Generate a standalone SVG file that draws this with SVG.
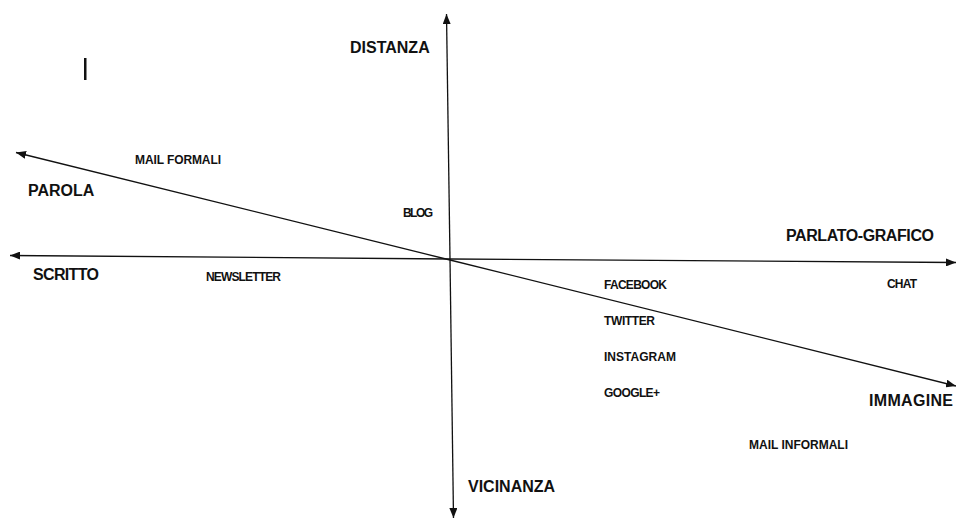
<svg xmlns="http://www.w3.org/2000/svg" width="956" height="520" viewBox="0 0 956 520">
<style>
.ax{stroke:#111;stroke-width:1.3;fill:none;marker-end:url(#ah)}
text{font-family:"Liberation Sans",Arial,sans-serif;font-weight:bold;fill:#111}
.big{font-size:16px}
.sm{font-size:12px}
</style>
<defs>
<marker id="ah" viewBox="0 0 10 8" refX="10" refY="4" markerWidth="10" markerHeight="8" markerUnits="userSpaceOnUse" orient="auto">
<path d="M0,0 L10,4 L0,8 z" fill="#111"/>
</marker>
</defs>
<rect width="956" height="520" fill="#fff"/>
<g id="connectors">
<line class="ax" x1="450" y1="259" x2="446.5" y2="14"/>
<line class="ax" x1="450" y1="259" x2="453.5" y2="518"/>
<line class="ax" x1="450" y1="259" x2="10" y2="255.5"/>
<line class="ax" x1="450" y1="259" x2="956" y2="262.5"/>
<line class="ax" x1="450" y1="260" x2="16" y2="152.5"/>
<line class="ax" x1="450" y1="260" x2="956" y2="386"/>
</g>
<rect id="cursor" x="84" y="58" width="2.5" height="22" fill="#111"/>
<g id="distanza"><text class="big" x="350" y="53">DISTANZA</text></g>
<g id="vicinanza"><text class="big" x="468" y="492">VICINANZA</text></g>
<g id="parola"><text class="big" x="28" y="196">PAROLA</text></g>
<g id="scritto"><text class="big" x="33" y="280" textLength="66">SCRITTO</text></g>
<g id="parlato-grafico"><text class="big" x="786" y="241" textLength="148">PARLATO-GRAFICO</text></g>
<g id="immagine"><text class="big" x="869" y="406" textLength="84">IMMAGINE</text></g>
<g id="mail-formali"><text class="sm" x="135" y="164" textLength="86">MAIL FORMALI</text></g>
<g id="blog"><text class="sm" x="403" y="217" textLength="30">BLOG</text></g>
<g id="newsletter"><text class="sm" x="206" y="281" textLength="75">NEWSLETTER</text></g>
<g id="facebook"><text class="sm" x="604" y="289" textLength="63">FACEBOOK</text></g>
<g id="chat"><text class="sm" x="887" y="288" textLength="30">CHAT</text></g>
<g id="twitter"><text class="sm" x="604" y="325" textLength="51">TWITTER</text></g>
<g id="instagram"><text class="sm" x="604" y="361" textLength="72">INSTAGRAM</text></g>
<g id="googleplus"><text class="sm" x="604" y="397" textLength="56">GOOGLE+</text></g>
<g id="mail-informali"><text class="sm" x="749" y="449" textLength="99">MAIL INFORMALI</text></g>
</svg>
